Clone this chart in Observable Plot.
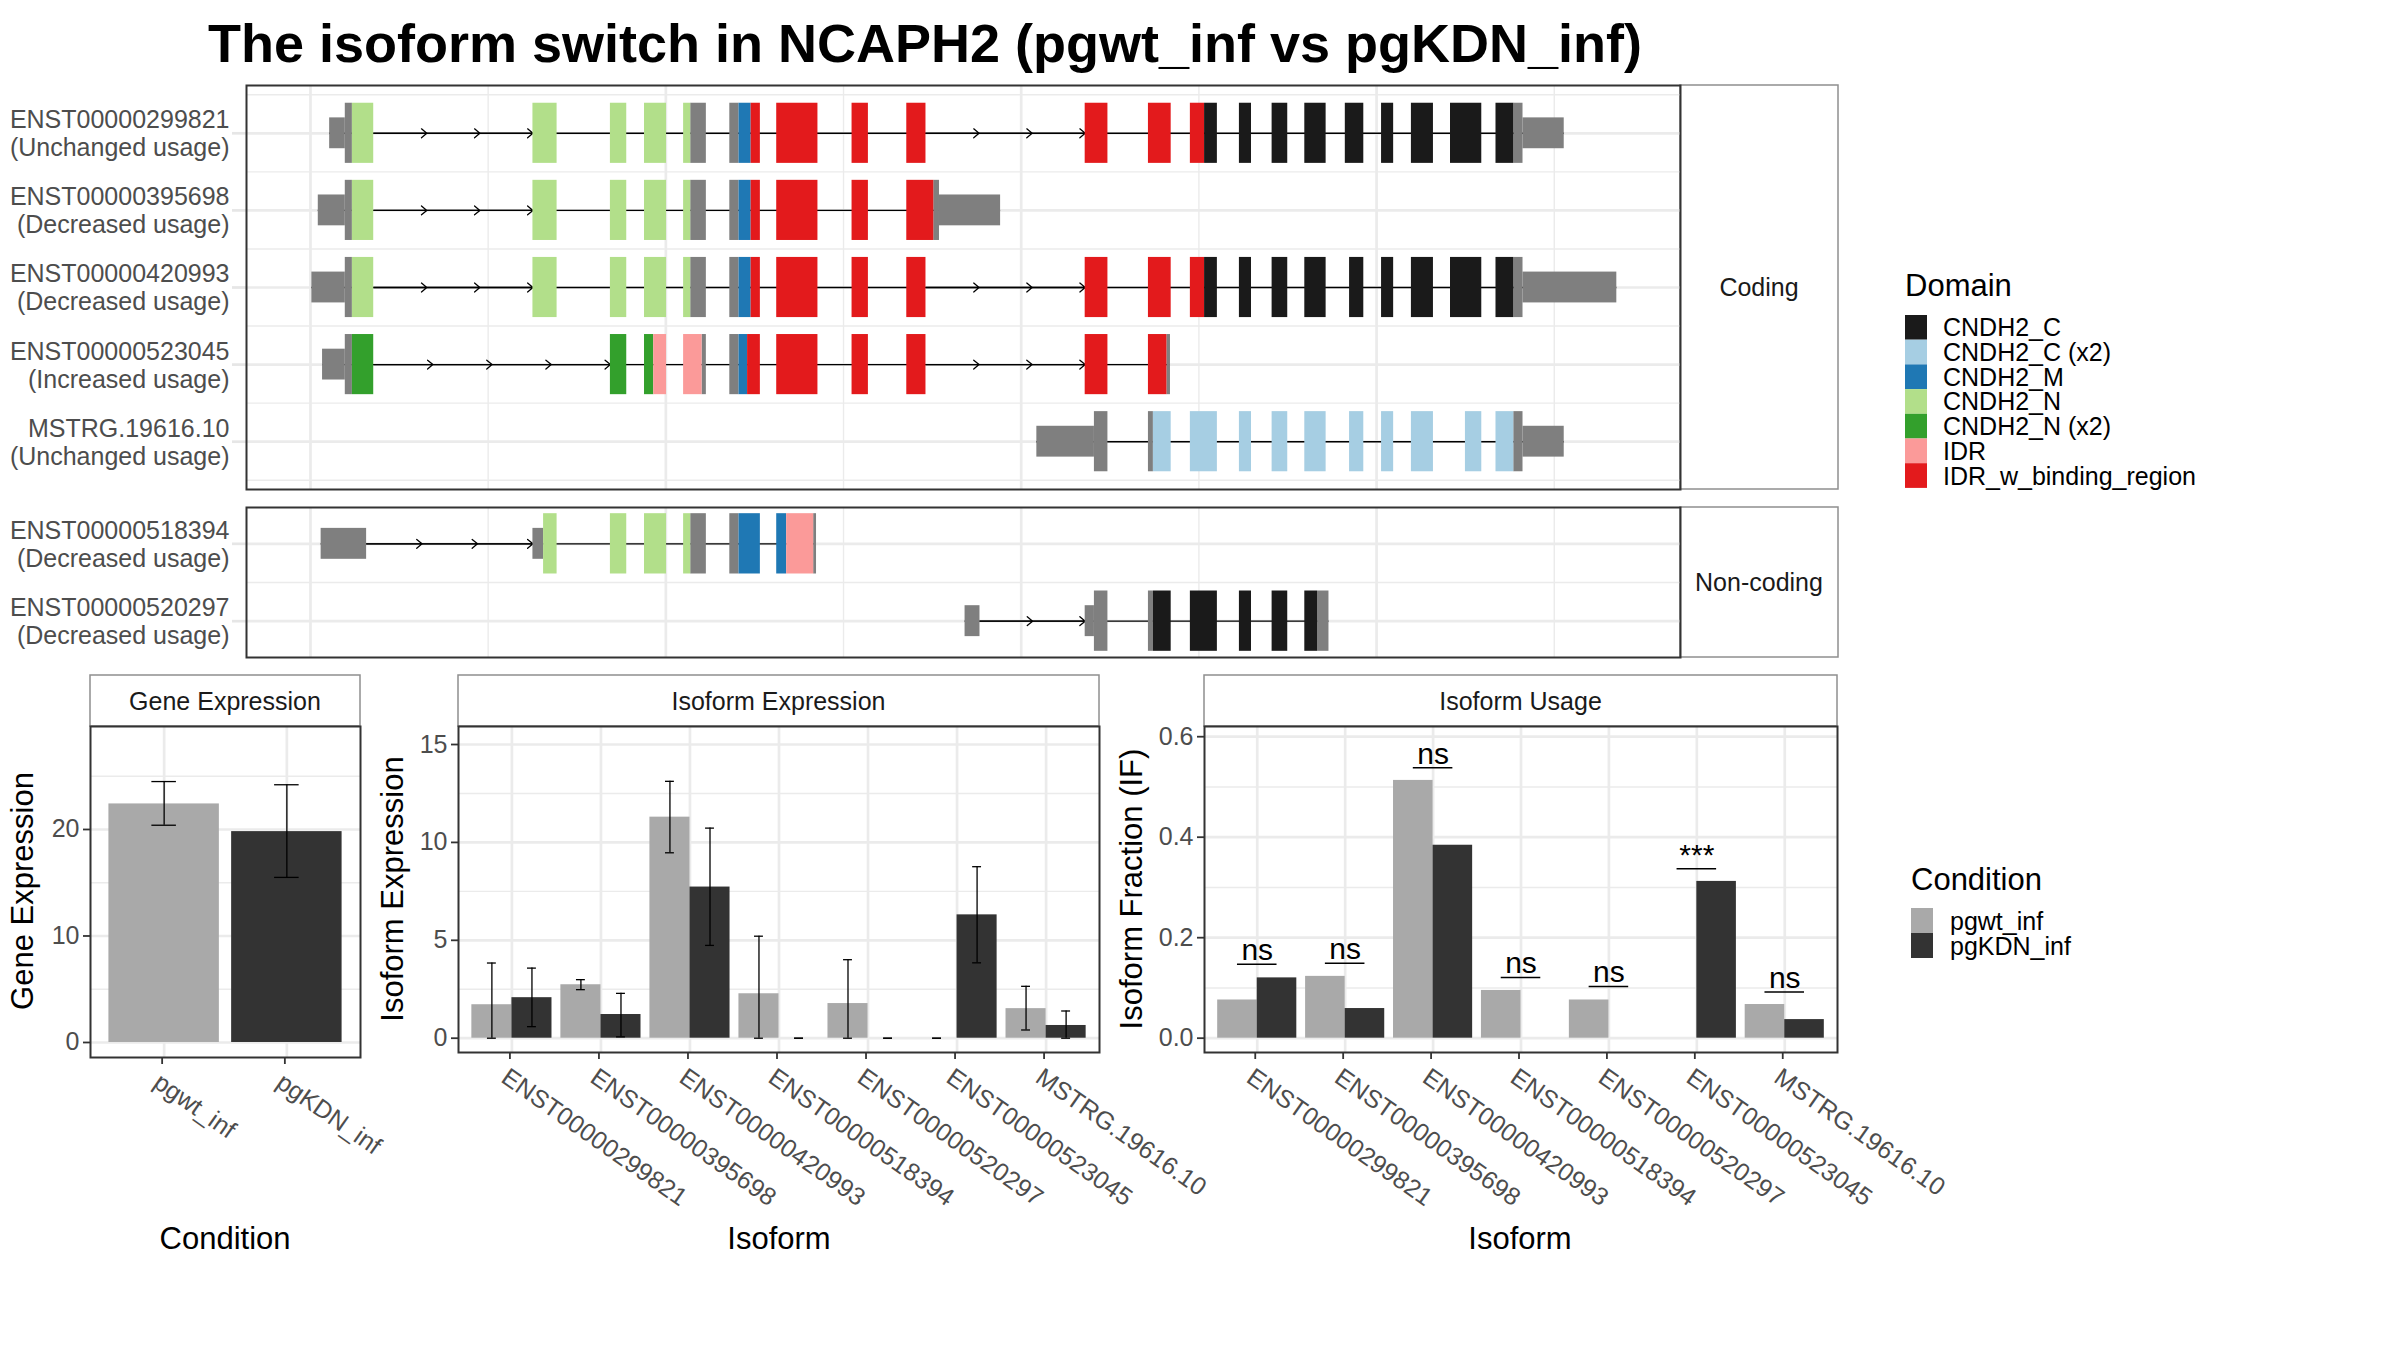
<!DOCTYPE html>
<html>
<head>
<meta charset="utf-8">
<script src="https://cdn.jsdelivr.net/npm/d3@7"></script>
<script src="https://cdn.jsdelivr.net/npm/@observablehq/plot@0.6"></script>
<style>
  html, body { margin: 0; padding: 0; background: #fff; }
  #root { position: relative; width: 2400px; height: 1350px; background: #fff; overflow: hidden; }
</style>
</head>
<body>
<div id="root"></div>
<script>
// ===================== DATA =====================
const TITLE = "The isoform switch in NCAPH2 (pgwt_inf vs pgKDN_inf)";

const codingIds = ["ENST00000299821", "ENST00000395698", "ENST00000420993", "ENST00000523045", "MSTRG.19616.10"];
const codingUsage = ["Unchanged usage", "Decreased usage", "Decreased usage", "Increased usage", "Unchanged usage"];
const nonCodingIds = ["ENST00000518394", "ENST00000520297"];
const nonCodingUsage = ["Decreased usage", "Decreased usage"];
const panelLabels = ["Coding", "Non-coding"];

const domainNames = ["CNDH2_C", "CNDH2_C (x2)", "CNDH2_M", "CNDH2_N", "CNDH2_N (x2)", "IDR", "IDR_w_binding_region"];
const domainCodes = ["C", "C2", "M", "N", "N2", "IDR", "IDRw"];

// exon pieces per transcript: [start bp, end bp, feature]  (UTR / CDS = no domain)
const exons_ENST00000299821 = [
  [5270, 5490, "UTR"], [5490, 5590, "CDS"], [5590, 5890, "N"], [8130, 8470, "N"], [9220, 9450, "N"],
  [9700, 10010, "N"], [10250, 10350, "N"], [10350, 10570, "CDS"], [10900, 11030, "CDS"], [11030, 11200, "M"],
  [11200, 11330, "IDRw"], [11560, 12140, "IDRw"], [12620, 12850, "IDRw"], [13390, 13660, "IDRw"],
  [15900, 16220, "IDRw"], [16790, 17110, "IDRw"], [17380, 17580, "IDRw"], [17580, 17760, "C"],
  [18070, 18240, "C"], [18530, 18750, "C"], [18990, 19290, "C"], [19560, 19820, "C"], [20070, 20240, "C"],
  [20490, 20800, "C"], [21040, 21480, "C"], [21680, 21930, "C"], [21930, 22060, "CDS"], [22060, 22640, "UTR"]
];
const exons_ENST00000395698 = [
  [5110, 5490, "UTR"], [5490, 5590, "CDS"], [5590, 5890, "N"], [8130, 8470, "N"], [9220, 9450, "N"],
  [9700, 10010, "N"], [10250, 10350, "N"], [10350, 10570, "CDS"], [10900, 11030, "CDS"], [11030, 11200, "M"],
  [11200, 11330, "IDRw"], [11560, 12140, "IDRw"], [12620, 12850, "IDRw"], [13390, 13770, "IDRw"],
  [13770, 13850, "CDS"], [13850, 14710, "UTR"]
];
const exons_ENST00000420993 = [
  [5020, 5490, "UTR"], [5490, 5590, "CDS"], [5590, 5890, "N"], [8130, 8470, "N"], [9220, 9450, "N"],
  [9700, 10010, "N"], [10250, 10350, "N"], [10350, 10570, "CDS"], [10900, 11030, "CDS"], [11030, 11200, "M"],
  [11200, 11330, "IDRw"], [11560, 12140, "IDRw"], [12620, 12850, "IDRw"], [13390, 13660, "IDRw"],
  [15900, 16220, "IDRw"], [16790, 17110, "IDRw"], [17380, 17580, "IDRw"], [17580, 17760, "C"],
  [18070, 18240, "C"], [18530, 18750, "C"], [18990, 19290, "C"], [19620, 19820, "C"], [20070, 20240, "C"],
  [20490, 20800, "C"], [21040, 21480, "C"], [21680, 21930, "C"], [21930, 22060, "CDS"], [22060, 23380, "UTR"]
];
const exons_ENST00000523045 = [
  [5170, 5490, "UTR"], [5490, 5590, "CDS"], [5590, 5890, "N2"], [9220, 9450, "N2"], [9700, 9830, "N2"],
  [9830, 10010, "IDR"], [10250, 10510, "IDR"], [10510, 10570, "CDS"], [10900, 11030, "CDS"], [11030, 11150, "M"],
  [11150, 11330, "IDRw"], [11560, 12140, "IDRw"], [12620, 12850, "IDRw"], [13390, 13660, "IDRw"],
  [15900, 16220, "IDRw"], [16790, 17050, "IDRw"], [17050, 17100, "CDS"]
];
const exons_MSTRG_19616_10 = [
  [15220, 16030, "UTR"], [16030, 16220, "CDS"], [16790, 16860, "CDS"], [16860, 17110, "C2"], [17380, 17760, "C2"],
  [18070, 18240, "C2"], [18530, 18750, "C2"], [18990, 19290, "C2"], [19620, 19820, "C2"], [20070, 20240, "C2"],
  [20490, 20800, "C2"], [21250, 21480, "C2"], [21680, 21930, "C2"], [21930, 22060, "CDS"], [22060, 22640, "UTR"]
];
const exons_ENST00000518394 = [
  [5150, 5790, "UTR"], [8130, 8280, "UTR"], [8280, 8470, "N"], [9220, 9450, "N"], [9700, 10010, "N"],
  [10250, 10350, "N"], [10350, 10570, "CDS"], [10900, 11030, "CDS"], [11030, 11330, "M"], [11560, 11700, "M"],
  [11700, 12080, "IDR"], [12080, 12120, "CDS"]
];
const exons_ENST00000520297 = [
  [14210, 14420, "UTR"], [15900, 16030, "UTR"], [16030, 16220, "CDS"], [16790, 16860, "CDS"], [16860, 17110, "C"],
  [17380, 17760, "C"], [18070, 18240, "C"], [18530, 18750, "C"], [18990, 19170, "C"], [19170, 19330, "CDS"]
];
// long introns drawn with direction arrows: [transcript, from bp, to bp, number of arrows]
const intronArrows = [
  ["ENST00000299821", 5890, 8130, 3], ["ENST00000299821", 13660, 15900, 3],
  ["ENST00000395698", 5890, 8130, 3],
  ["ENST00000420993", 5890, 8130, 3], ["ENST00000420993", 13660, 15900, 3],
  ["ENST00000523045", 5890, 9220, 4], ["ENST00000523045", 13660, 15900, 3],
  ["ENST00000518394", 5790, 8130, 3],
  ["ENST00000520297", 14420, 15900, 2]
];
const genomeMajorBreaks = [5000, 10000, 15000, 20000];
const genomeMinorBreaks = [7500, 12500, 17500, 22500];

// expression data
const conditions = ["pgwt_inf", "pgKDN_inf"];
const geneExpr = [22.4, 19.8];
const geneExprLow = [20.4, 15.5];
const geneExprHigh = [24.5, 24.2];

const isoforms = ["ENST00000299821", "ENST00000395698", "ENST00000420993", "ENST00000518394", "ENST00000520297", "ENST00000523045", "MSTRG.19616.10"];
const isoExpWt = [1.71, 2.73, 11.29, 2.27, 1.77, 0, 1.51];
const isoExpWtLow = [0, 2.48, 9.47, 0, 0, 0, 0.42];
const isoExpWtHigh = [3.84, 2.99, 13.12, 5.21, 4.01, 0, 2.65];
const isoExpKdn = [2.07, 1.21, 7.72, 0, 0, 6.30, 0.65];
const isoExpKdnLow = [0.59, 0.07, 4.74, 0, 0, 3.85, 0];
const isoExpKdnHigh = [3.58, 2.29, 10.73, 0, 0, 8.76, 1.39];

const isoUsageWt = [0.076, 0.123, 0.513, 0.095, 0.076, 0, 0.067];
const isoUsageKdn = [0.120, 0.059, 0.384, 0, 0, 0.312, 0.037];
const sigLabels = ["ns", "ns", "ns", "ns", "ns", "***", "ns"];
const sigLevel = [0.147, 0.149, 0.538, 0.121, 0.103, 0.337, 0.092];

const geneTicks = [0, 10, 20], geneMinor = [5, 15, 25];
const isoExpTicks = [0, 5, 10, 15], isoExpMinor = [2.5, 7.5, 12.5];
const usageTicks = [0, 0.2, 0.4, 0.6], usageMinor = [0.1, 0.3, 0.5];

// ===================== STYLE / LAYOUT =====================
const FONT = '"Liberation Sans", Arial, Helvetica, sans-serif';
const GRID = "#ebebeb";
const domainColors = ["#1a1a1a", "#a6cee3", "#1f78b4", "#b2df8a", "#33a02c", "#fb9a99", "#e31a1c"];
const conditionColors = ["#a9a9a9", "#333333"];
const NODOMAIN = "#7f7f7f";
const AXIS_TEXT = "#4d4d4d";
const TICK_FS = 25;
const root = document.getElementById("root");
const plotStyle = {fontFamily: FONT, fontSize: "25px", background: "transparent", overflow: "visible", maxWidth: "none"};

function place(svg, left, top) {
  svg.style.position = "absolute";
  svg.style.left = left + "px";
  svg.style.top = top + "px";
  root.appendChild(svg);
}

// ---------- decorations (title, strips, axis titles, legends) ----------
const decor = d3.select(root).append("svg")
  .attr("width", 2400).attr("height", 1350)
  .style("position", "absolute").style("left", 0).style("top", 0)
  .style("font-family", FONT);

decor.append("text").attr("x", 925).attr("y", 62).attr("text-anchor", "middle")
  .attr("font-size", 54).attr("font-weight", "bold").attr("fill", "#000").text(TITLE);

function strip(x, y, w, h, label) {
  decor.append("rect").attr("x", x).attr("y", y).attr("width", w).attr("height", h)
    .attr("fill", "#fff").attr("stroke", "#8f8f8f").attr("stroke-width", 1.5);
  decor.append("text").attr("x", x + w / 2).attr("y", y + h / 2).attr("dy", "0.36em")
    .attr("text-anchor", "middle").attr("font-size", 25).attr("fill", "#1a1a1a").text(label);
}
strip(1680, 85, 158, 404, panelLabels[0]);
strip(1680, 507, 158, 150, panelLabels[1]);
strip(90, 675, 270, 51, "Gene Expression");
strip(458, 675, 641, 51, "Isoform Expression");
strip(1204, 675, 633, 51, "Isoform Usage");

function axisTitle(x, y, label, vertical) {
  decor.append("text").attr("transform", `translate(${x},${y})` + (vertical ? " rotate(-90)" : ""))
    .attr("dy", "0.36em").attr("text-anchor", "middle").attr("font-size", 31).attr("fill", "#000").text(label);
}
axisTitle(22, 891, "Gene Expression", true);
axisTitle(392, 889, "Isoform Expression", true);
axisTitle(1131, 889, "Isoform Fraction (IF)", true);
axisTitle(225, 1238, "Condition", false);
axisTitle(779, 1238, "Isoform", false);
axisTitle(1520, 1238, "Isoform", false);

function legend(x, titleY, keyTop, title, names, colors, keyW, keyH, labelX) {
  decor.append("text").attr("x", x).attr("y", titleY).attr("font-size", 31).attr("fill", "#000").text(title);
  names.forEach((n, i) => {
    decor.append("rect").attr("x", x).attr("y", keyTop + i * keyH).attr("width", keyW).attr("height", keyH).attr("fill", colors[i]);
    decor.append("text").attr("x", labelX).attr("y", keyTop + i * keyH + keyH / 2).attr("dy", "0.36em")
      .attr("font-size", 25).attr("fill", "#000").text(n);
  });
}
legend(1905, 296, 315, "Domain", domainNames, domainColors, 22, 24.7, 1943);
legend(1911, 890, 908, "Condition", conditions, conditionColors, 22, 25, 1950);

// ---------- transcript structure panels ----------
const exonTable = {
  "ENST00000299821": exons_ENST00000299821, "ENST00000395698": exons_ENST00000395698,
  "ENST00000420993": exons_ENST00000420993, "ENST00000523045": exons_ENST00000523045,
  "MSTRG.19616.10": exons_MSTRG_19616_10, "ENST00000518394": exons_ENST00000518394,
  "ENST00000520297": exons_ENST00000520297
};
const codeToDomain = new Map(domainCodes.map((c, i) => [c, domainNames[i]]));
const XDOMAIN = [4100, 24276];

function transcriptPanel(ids, usages, yDomain, frameHeight) {
  const rows = ids.map((_, i) => i + 1);
  const segs = ids.flatMap((id, i) => exonTable[id].map(([start, end, f]) => ({
    y: i + 1, start, end, feature: f, domain: codeToDomain.get(f) ?? null
  })));
  const spans = ids.map((id, i) => ({y: i + 1, x1: d3.min(exonTable[id], d => d[0]), x2: d3.max(exonTable[id], d => d[1])}));
  const arrows = intronArrows.filter(a => ids.includes(a[0])).flatMap(([id, a, b, n]) =>
    d3.range(n).map(k => ({y: ids.indexOf(id) + 1, x1: a + (b - a) * k / n, x2: a + (b - a) * (k + 1) / n})));
  const halfRows = d3.range(0.5, ids.length + 1, 1).filter(v => v > yDomain[0] && v < yDomain[1]);
  const halfH = d => d.feature === "UTR" ? 0.2 : 0.39;
  return Plot.plot({
    width: 1690, height: frameHeight + 20,
    marginLeft: 246, marginRight: 10, marginTop: 10, marginBottom: 10,
    style: plotStyle,
    x: {domain: XDOMAIN, axis: null},
    y: {domain: yDomain, reverse: true},
    color: {domain: domainNames, range: domainColors},
    marks: [
      Plot.ruleX(genomeMinorBreaks, {stroke: GRID, strokeWidth: 1.4}),
      Plot.ruleX(genomeMajorBreaks, {stroke: GRID, strokeWidth: 2.7}),
      Plot.ruleY(halfRows, {stroke: GRID, strokeWidth: 1.4}),
      Plot.ruleY(rows, {stroke: GRID, strokeWidth: 2.7}),
      Plot.axisY(rows, {
        tickFormat: i => `${ids[i - 1]}\n(${usages[i - 1]})`,
        tickSize: 14, tickPadding: 3, stroke: "#e6e6e6", strokeWidth: 2.7,
        fill: AXIS_TEXT, fontSize: 25, lineHeight: 1.12, label: null
      }),
      Plot.ruleY(spans, {y: "y", x1: "x1", x2: "x2", stroke: "#000", strokeWidth: 1.4}),
      Plot.arrow(arrows, {x1: "x1", x2: "x2", y1: "y", y2: "y", stroke: "#000", strokeWidth: 1.3, headLength: 8, headAngle: 80}),
      Plot.rect(segs.filter(d => !d.domain), {x1: "start", x2: "end", y1: d => d.y - halfH(d), y2: d => d.y + halfH(d), fill: NODOMAIN, inset: 0}),
      Plot.rect(segs.filter(d => d.domain), {x1: "start", x2: "end", y1: d => d.y - halfH(d), y2: d => d.y + halfH(d), fill: "domain", inset: 0}),
      Plot.frame({stroke: "#333", strokeWidth: 2})
    ]
  });
}
place(transcriptPanel(codingIds, codingUsage, [0.38, 5.62], 404), 0, 75);
place(transcriptPanel(nonCodingIds, nonCodingUsage, [0.53, 2.47], 150), 0, 497);

// ---------- bar panels ----------
function barPanel({names, records, yDomain, yTicks, yMinor, tickFormat, frameW, frameH, marginLeft, marginRight, capHalf, extra = []}) {
  const idx = names.map((_, i) => i + 1);
  return Plot.plot({
    width: marginLeft + frameW + marginRight, height: frameH + 10 + 200,
    marginLeft, marginRight, marginTop: 10, marginBottom: 200,
    style: plotStyle,
    x: {domain: [0.4, names.length + 0.6]},
    y: {domain: yDomain},
    color: {domain: conditions, range: conditionColors},
    marks: [
      Plot.ruleY(yMinor, {stroke: GRID, strokeWidth: 1.4}),
      Plot.ruleY(yTicks, {stroke: GRID, strokeWidth: 2.7}),
      Plot.ruleX(idx, {stroke: GRID, strokeWidth: 2.7}),
      Plot.rect(records, {x1: "x1", x2: "x2", y1: 0, y2: "value", fill: "cond", inset: 0}),
      Plot.ruleX(records.filter(d => d.lo != null), {x: "xc", y1: "lo", y2: "hi", stroke: "#000", strokeWidth: 1.3}),
      Plot.ruleY(records.filter(d => d.lo != null), {y: "hi", x1: d => d.xc - capHalf, x2: d => d.xc + capHalf, stroke: "#000", strokeWidth: 1.3}),
      Plot.ruleY(records.filter(d => d.lo != null), {y: "lo", x1: d => d.xc - capHalf, x2: d => d.xc + capHalf, stroke: "#000", strokeWidth: 1.3}),
      ...extra,
      Plot.axisY(yTicks, {tickSize: 7, tickPadding: 4, stroke: "#333", strokeWidth: 1.8, fill: AXIS_TEXT, fontSize: TICK_FS, tickFormat, label: null}),
      Plot.axisX(idx, {
        tickFormat: i => names[i - 1], tickRotate: 35, textAnchor: "start", lineAnchor: "top",
        tickSize: 7, tickPadding: 7, dx: -2, stroke: "#333", strokeWidth: 1.8, fill: AXIS_TEXT, fontSize: TICK_FS, label: null
      }),
      Plot.frame({stroke: "#333", strokeWidth: 2})
    ]
  });
}

// Gene expression
const geneRecords = conditions.map((c, i) => ({
  cond: c, value: geneExpr[i], lo: geneExprLow[i], hi: geneExprHigh[i],
  x1: i + 1 - 0.45, x2: i + 1 + 0.45, xc: i + 1
}));
place(barPanel({
  names: conditions, records: geneRecords, yDomain: [-1.41, 29.67], yTicks: geneTicks, yMinor: geneMinor,
  tickFormat: d => String(d), frameW: 270, frameH: 331, marginLeft: 90, marginRight: 10, capHalf: 0.1
}), 0, 716);

// dodged records helper
function dodged(wt, kdn, wtLo, wtHi, kdnLo, kdnHi) {
  return conditions.flatMap((c, ci) => isoforms.map((iso, i) => ({
    cond: c, iso, value: ci ? kdn[i] : wt[i],
    lo: wtLo ? (ci ? kdnLo[i] : wtLo[i]) : null,
    hi: wtHi ? (ci ? kdnHi[i] : wtHi[i]) : null,
    x1: i + 1 - 0.45 + 0.45 * ci, x2: i + 1 + 0.45 * ci, xc: i + 1 - 0.225 + 0.45 * ci
  })));
}

// Isoform expression
place(barPanel({
  names: isoforms, records: dodged(isoExpWt, isoExpKdn, isoExpWtLow, isoExpWtHigh, isoExpKdnLow, isoExpKdnHigh),
  yDomain: [-0.73, 15.92], yTicks: isoExpTicks, yMinor: isoExpMinor, tickFormat: d => String(d),
  frameW: 641, frameH: 326, marginLeft: 58, marginRight: 150, capHalf: 0.05
}), 400, 716);

// Isoform usage
const sigRecords = isoforms.map((iso, i) => ({xc: i + 1, y: sigLevel[i], label: sigLabels[i]}));
place(barPanel({
  names: isoforms, records: dodged(isoUsageWt, isoUsageKdn),
  yDomain: [-0.0285, 0.6203], yTicks: usageTicks, yMinor: usageMinor, tickFormat: d => d.toFixed(1),
  frameW: 633, frameH: 326, marginLeft: 64, marginRight: 200, capHalf: 0.05,
  extra: [
    Plot.ruleY(sigRecords, {y: "y", x1: d => d.xc - 0.225, x2: d => d.xc + 0.225, stroke: "#000", strokeWidth: 1.5}),
    Plot.text(sigRecords, {x: "xc", y: "y", text: "label", lineAnchor: "bottom", dy: -4, fontSize: 30, fill: "#000"})
  ]
}), 1140, 716);
</script>
</body>
</html>
